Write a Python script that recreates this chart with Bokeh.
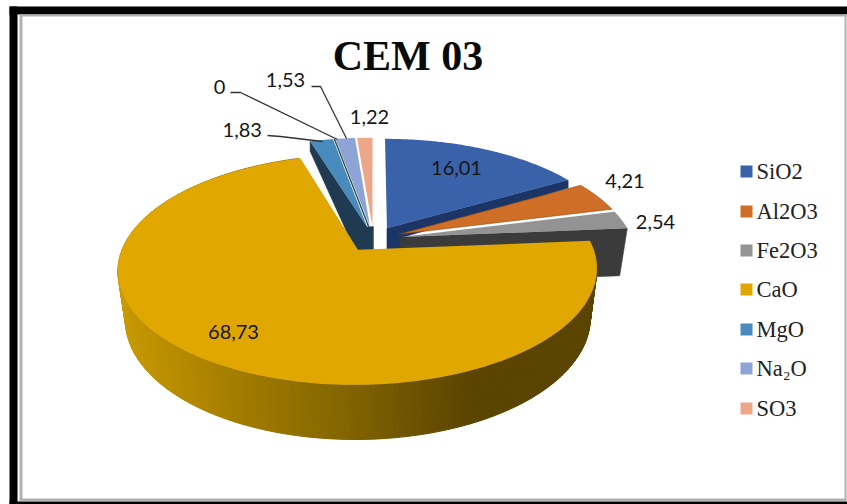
import numpy as np
from bokeh.core.properties import value
from bokeh.embed import file_html
from bokeh.models import Range1d
from bokeh.plotting import figure
from bokeh.resources import INLINE

# Cement oxide composition (the unnamed entry has a value of zero and no legend row)
TITLE = "CEM 03"
oxides = ["SiO2", "Al2O3", "Fe2O3", "CaO", "MgO", "", "Na₂O", "SO3"]
percent = [16.01, 4.21, 2.54, 68.73, 1.83, 0.0, 1.53, 1.22]
percent_text = ["16,01", "4,21", "2,54", "68,73", "1,83", "0", "1,53", "1,22"]

top_colors = ["#3a62aa", "#cf6e26", "#939393", "#dfa700", "#4a8bbd", "#4a8bbd", "#8ea3d6", "#eca68a"]

# Projection of the exploded disc onto the page
CX, CY = 373.0, 238.6
RX, RY = 232.0, 108.0
PERSPECTIVE = 0.17
EXPLODE = 0.118
FLOOR_SCALE = 0.97
FLOOR_DROP = 48.0

total = sum(percent)
edges = np.concatenate([[0.0], np.cumsum(percent)]) / total * 360.0
mids = (edges[:-1] + edges[1:]) / 2


def project(theta, mid, radius=1.0, floor=False):
    t, m = np.radians(theta), np.radians(mid)
    u = radius * np.sin(t) + EXPLODE * np.sin(m)
    v = radius * np.cos(t) + EXPLODE * np.cos(m)
    s = 1.0 / (1.0 + PERSPECTIVE * v)
    if floor:
        return CX + RX * u * s * FLOOR_SCALE, CY - RY * v * s * FLOOR_SCALE + FLOOR_DROP * s
    return CX + RX * u * s, CY - RY * v * s


def top_face(i):
    angles = np.linspace(edges[i], edges[i + 1], 120)
    ax, ay = project(mids[i], mids[i], radius=0.0)
    xs, ys = project(angles, mids[i])
    return [float(ax)] + list(xs), [float(ay)] + list(ys)


def apex(i):
    x, y = project(mids[i], mids[i], radius=0.0)
    return float(x), float(y)


def rim(i, theta):
    x, y = project(theta, mids[i])
    return float(x), float(y)


p = figure(width=847, height=504, output_backend="svg", toolbar_location=None,
           x_range=Range1d(0, 847), y_range=Range1d(504, 0), min_border=0,
           background_fill_color="white", border_fill_color="white", outline_line_color=None)
p.axis.visible = False
p.grid.visible = False

# Picture frame
p.quad(left=[9, 9, 9, 19, 844], right=[847, 17, 847, 22, 846],
       top=[6, 6, 501, 14, 14], bottom=[14, 504, 504, 500, 500],
       fill_color=["#000000", "#000000", "#000000", "#b2b2b2", "#b2b2b2"], line_color=None)
p.quad(left=[19], right=[846], top=[14], bottom=[16], fill_color="#b2b2b2", line_color=None)
p.quad(left=[19], right=[846], top=[498], bottom=[500.5], fill_color="#b2b2b2", line_color=None)

# SiO2: cut wall under the leading edge
ax, ay = apex(0)
rx, ry = rim(0, edges[1])
p.patch([ax, rx, rx, ax + 16, ax + 16, ax], [ay, ry, ry + 8, ay + 9, ay + 26, ay + 26],
        fill_color="#1b3566", line_color="#1b3566", line_width=0.5)
xs, ys = top_face(0)
p.patch(xs, ys, fill_color=top_colors[0], line_color=None)

# Al2O3
xs, ys = top_face(1)
p.patch(xs, ys, fill_color=top_colors[1], line_color="#7a4218", line_width=0.5)

# Fe2O3: full-height wall, then its top
ax, ay = apex(2)
rx, ry = rim(2, edges[3])
bx, by = project(edges[3], mids[2], floor=True)
cx_, cy_ = project(mids[2], mids[2], radius=0.0, floor=True)
p.patch([ax, rx, float(bx), float(cx_)], [ay, ry, float(by), float(cy_)],
        fill_color="#3b3b3b", line_color="#3b3b3b", line_width=0.5)
xs, ys = top_face(2)
p.patch(xs, ys, fill_color=top_colors[2], line_color=None)

# MgO wall and the dark sliver reaching the SO3 tip
ax, ay = apex(4)
rx, ry = rim(4, edges[4])
sx, sy = apex(7)
p.patch([ax, rx, rx, ax - 10, sx + 1, sx + 1], [ay, ry, ry + 10, ay + 28, sy + 26, sy],
        fill_color="#203a52", line_color="#203a52", line_width=0.5)
xs, ys = top_face(4)
p.patch(xs, ys, fill_color=top_colors[4], line_color=None)

# The zero-value slice collapses to a single dark line
ax, ay = apex(5)
rx, ry = rim(5, edges[5])
p.line([ax, rx], [ay, ry], line_color="#2c4a48", line_width=1.4)

# Na2O and SO3
for i in (6, 7):
    xs, ys = top_face(i)
    p.patch(xs, ys, fill_color=top_colors[i], line_color=None)

# CaO outer wall: thin strips shaded from light on the left to dark on the right
shade_x = [118, 133, 267, 367, 467, 600]
shade_r = [200, 195, 154, 124, 92, 90]
shade_g = [155, 149, 118, 95, 69, 68]
strip_xs, strip_ys, strip_cols = [], [], []
arc = np.arange(edges[3], edges[4], 1.0)
for a0, a1 in zip(arc[:-1], arc[1:]):
    x0, y0 = project(a0, mids[3])
    x1, y1 = project(a1, mids[3])
    x2, y2 = project(a1, mids[3], floor=True)
    x3, y3 = project(a0, mids[3], floor=True)
    xm = (x0 + x1) / 2
    strip_xs.append([float(x0), float(x1), float(x2), float(x3)])
    strip_ys.append([float(y0), float(y1), float(y2), float(y3)])
    strip_cols.append("#%02x%02x00" % (int(np.interp(xm, shade_x, shade_r)),
                                       int(np.interp(xm, shade_x, shade_g))))
p.patches(strip_xs, strip_ys, fill_color=strip_cols, line_color=strip_cols, line_width=1)
xs, ys = top_face(3)
p.patch(xs, ys, fill_color=top_colors[3], line_color=None)

# Leader lines for the small slices
leaders_x = [[267, 280, 322], [230, 240, 337], [311, 320, 346]]
leaders_y = [[135, 136, 141], [92, 92, 139], [86, 86, 138]]
p.multi_line(leaders_x, leaders_y, line_color="#333333", line_width=1.3)

# Value labels
label_x = [456, 624.5, 655, 233, 241.7, 219, 285, 369]
label_y = [167, 180, 221, 331, 129, 86, 79, 116]
p.text(label_x, label_y, text=percent_text, text_font=value("Lato"), text_font_size="20px",
       text_align="center", text_baseline="middle", text_color="#161616")

# Title
p.text([407.5], [55.5], text=[TITLE], text_font=value("Liberation Serif"), text_font_style="bold",
       text_font_size="42px", text_align="center", text_baseline="middle", text_color="#0a0a0a")

# Legend
legend_names = [n for n in oxides if n]
legend_cols = [c for n, c in zip(oxides, top_colors) if n]
legend_y = [171, 211, 250, 289, 329, 368, 408]
p.rect([746] * 7, legend_y, width=12, height=12, fill_color=legend_cols, line_color=None)
p.text([756] * 7, legend_y, text=legend_names, text_font=value("Liberation Serif"),
       text_font_size="22.5px", text_align="left", text_baseline="middle", text_color="#222222")

open("out.html", "w").write(file_html(p, INLINE))
